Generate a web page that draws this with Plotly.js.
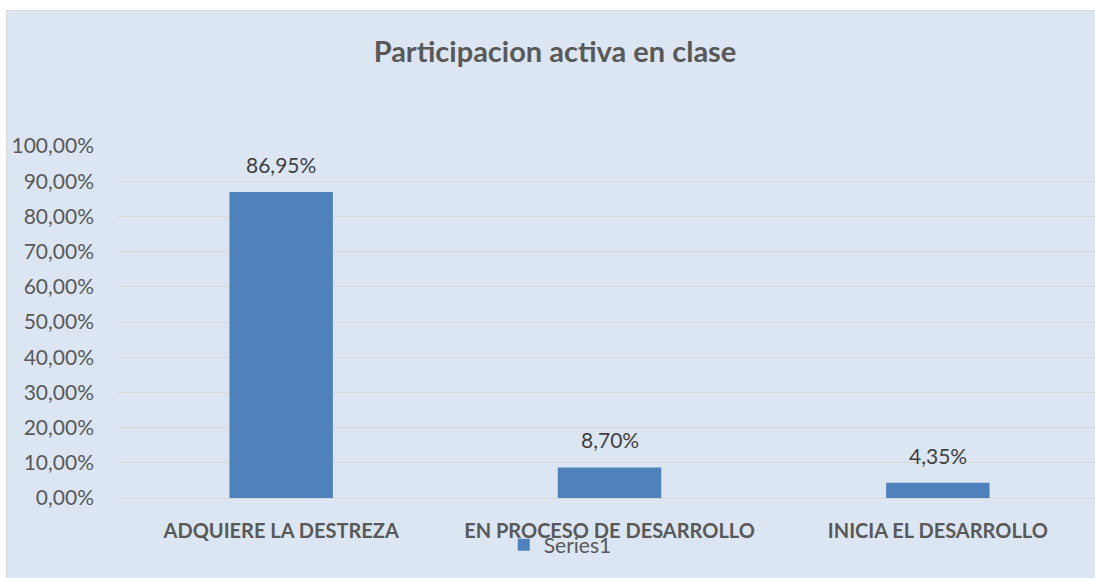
<!DOCTYPE html>
<html>
<head>
<meta charset="utf-8">
<script src="https://cdn.plot.ly/plotly-3.0.1.min.js"></script>
<style>
  html, body { margin: 0; padding: 0; background: #ffffff; overflow: hidden; }
  #wrap { position: absolute; left: 6px; top: 10px; border-left: 1px solid #d9d9d9; border-top: 1px solid #d9d9d9; }
  #chart { width: 1100px; height: 567px; }
</style>
</head>
<body>
<div id="wrap"><div id="chart"></div></div>
<script>
const categories = ["ADQUIERE LA DESTREZA", "EN PROCESO DE DESARROLLO", "INICIA EL DESARROLLO"];
const values = [0.8695, 0.087, 0.0435];
const seriesName = "Series1";
const chartTitle = "Participacion activa en clase";

const fontFam = "Lato, 'Open Sans', sans-serif";

const trace = {
  type: "bar",
  x: categories,
  y: values,
  name: seriesName,
  marker: { color: "#4f81bd" },
  hoverinfo: "none",
  showlegend: true
};

const annotations = categories.map((c, i) => ({
  x: c, y: values[i], xref: "x", yref: "y",
  text: (values[i] * 100).toFixed(2).replace(".", ",") + "%",
  showarrow: false, yanchor: "bottom", yshift: 13,
  font: { family: fontFam, size: 21, color: "#404040" }
}));

const layout = {
  width: 1100, height: 567,
  paper_bgcolor: "#dce6f2",
  plot_bgcolor: "#dce6f2",
  separators: ",.",
  margin: { l: 110, r: 5, t: 135, b: 80 },
  title: {
    text: "<b>" + chartTitle + "</b>",
    xref: "container", x: 548 / 1100, xanchor: "center",
    yref: "container", y: 1 - 41 / 567, yanchor: "middle",
    font: { family: fontFam, size: 29, color: "#595959" }
  },
  bargap: 0.685,
  xaxis: {
    type: "category",
    showgrid: false, zeroline: false, showline: false, ticks: "",
    tickfont: { family: fontFam, size: 20, color: "#595959" },
    tickprefix: "<b>", ticksuffix: "</b>",
    ticklabelstandoff: 19
  },
  yaxis: {
    range: [0, 1.0],
    dtick: 0.1, tick0: 0,
    tickformat: ".2%",
    showgrid: true, gridcolor: "#d9d9d9", gridwidth: 1,
    zeroline: true, zerolinecolor: "#d9d9d9", zerolinewidth: 1,
    showline: false, ticks: "",
    tickfont: { family: fontFam, size: 21, color: "#595959" },
    ticklabelstandoff: 22
  },
  showlegend: true,
  legend: {
    orientation: "h",
    x: 0.45, xanchor: "center",
    y: -0.134, yanchor: "middle",
    bgcolor: "rgba(0,0,0,0)",
    font: { family: fontFam, size: 21, color: "#595959" },
    itemwidth: 30
  },
  annotations: annotations
};

Plotly.newPlot("chart", [trace], layout, { displayModeBar: false, staticPlot: true });
</script>
</body>
</html>
